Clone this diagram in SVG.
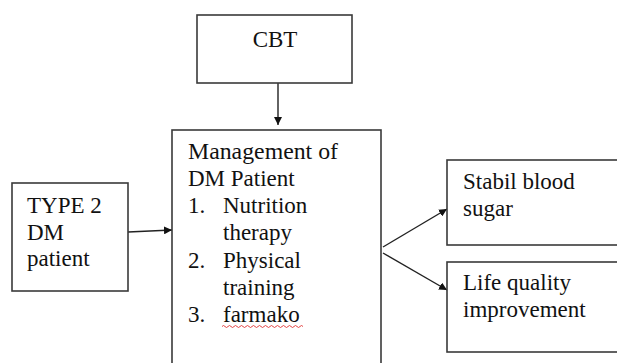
<svg xmlns="http://www.w3.org/2000/svg" width="617" height="363" viewBox="0 0 617 363">
<defs>
<style>
.box{fill:#fff;stroke:#3a3a3a;stroke-width:1.6}
.t{font-family:"Liberation Serif","Times New Roman",serif;font-size:23px;fill:#111}
.c{fill:none;stroke:#222;stroke-width:1.4}
</style>
<marker id="ah" viewBox="0 0 10 10" refX="10" refY="5" markerWidth="8" markerHeight="8" markerUnits="userSpaceOnUse" orient="auto">
<path d="M0,0 L10,5 L0,10 z" fill="#111"/>
</marker>
</defs>
<rect width="617" height="363" fill="#fff"/>
<g id="connectors">
<line class="c" x1="278" y1="83" x2="278" y2="125" marker-end="url(#ah)"/>
<line class="c" x1="128" y1="232" x2="172" y2="230" marker-end="url(#ah)"/>
<line class="c" x1="383" y1="247" x2="447" y2="209" marker-end="url(#ah)"/>
<line class="c" x1="383" y1="253" x2="447" y2="290" marker-end="url(#ah)"/>
</g>
<g id="cbt">
<rect class="box" x="197" y="15" width="155" height="68"/>
<text class="t" x="275" y="47" text-anchor="middle">CBT</text>
</g>
<g id="type2">
<rect class="box" x="12" y="183" width="116" height="108"/>
<text class="t" x="27" y="213">TYPE 2</text>
<text class="t" x="27" y="240">DM</text>
<text class="t" x="27" y="266">patient</text>
</g>
<g id="management">
<rect class="box" x="172" y="130" width="209" height="250"/>
<text class="t" x="188" y="159" textLength="150" lengthAdjust="spacingAndGlyphs">Management of</text>
<text class="t" x="188" y="186">DM Patient</text>
<text class="t" x="188" y="213">1.</text><text class="t" x="223" y="213">Nutrition</text>
<text class="t" x="223" y="240">therapy</text>
<text class="t" x="188" y="268">2.</text><text class="t" x="223" y="268">Physical</text>
<text class="t" x="223" y="295">training</text>
<text class="t" x="188" y="322">3.</text><text class="t" x="223" y="322">farmako</text>
<path d="M222,326.5 q1.5,-2 3,0 t3,0 t3,0 t3,0 t3,0 t3,0 t3,0 t3,0 t3,0 t3,0 t3,0 t3,0 t3,0 t3,0 t3,0 t3,0 t3,0 t3,0 t3,0 t3,0 t3,0 t3,0 t3,0 t3,0 t3,0 t3,0 t3,0" fill="none" stroke="#e03030" stroke-width="0.9"/>
</g>
<g id="stabil">
<rect class="box" x="447" y="160" width="180" height="85"/>
<text class="t" x="463" y="189">Stabil blood</text>
<text class="t" x="463" y="216">sugar</text>
</g>
<g id="life">
<rect class="box" x="447" y="262" width="180" height="90"/>
<text class="t" x="463" y="290">Life quality</text>
<text class="t" x="463" y="317">improvement</text>
</g>
</svg>
